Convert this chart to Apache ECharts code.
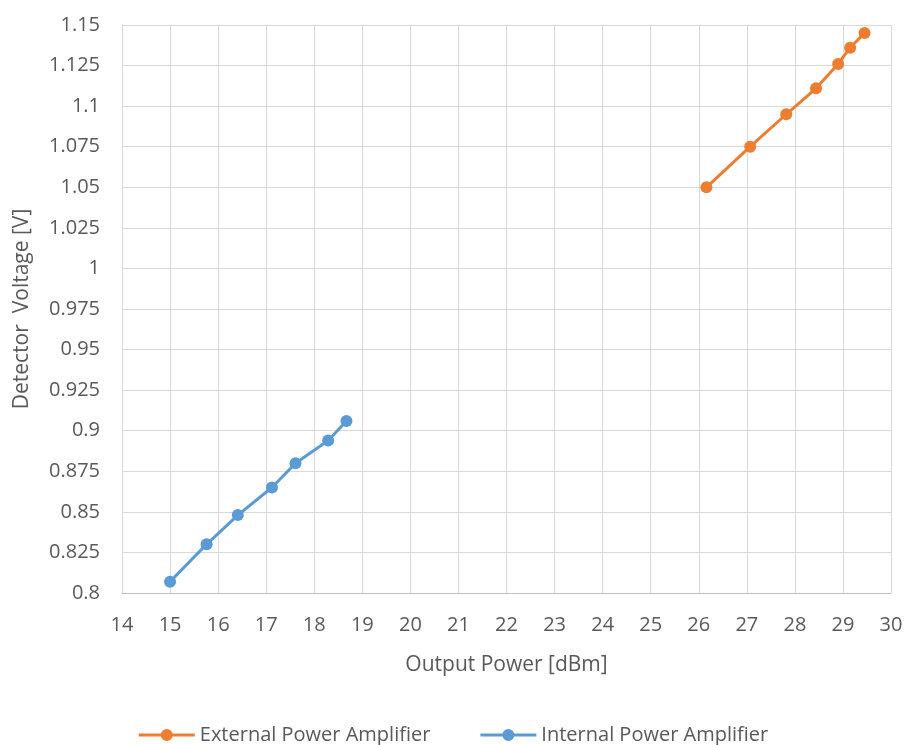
<!DOCTYPE html>
<html>
<head>
<meta charset="utf-8">
<script src="https://cdn.jsdelivr.net/npm/echarts@6/dist/echarts.min.js"></script>
<style>html,body{margin:0;padding:0;background:#fff;}#c{width:907px;height:745px;}</style>
</head>
<body>
<div id="c"></div>
<script>
const seriesNames = ['External Power Amplifier', 'Internal Power Amplifier'];
const externalX = [26.16, 27.07, 27.82, 28.44, 28.90, 29.15, 29.45];
const externalY = [1.050, 1.075, 1.095, 1.111, 1.126, 1.136, 1.145];
const internalX = [15.0, 15.76, 16.41, 17.12, 17.61, 18.29, 18.67];
const internalY = [0.807, 0.830, 0.848, 0.865, 0.880, 0.894, 0.906];
const xTitle = 'Output Power [dBm]';
const yTitle = 'Detector  Voltage [V]';

const zip = (xs, ys) => xs.map((x, i) => [x, ys[i]]);
const FONT = 'Open Sans';
const TXT = '#595959';
const ICON = 'path://M0,4.6H56V7.4H0Z M22,6a6,6 0 1,1 12,0a6,6 0 1,1 -12,0Z';
const chart = echarts.init(document.getElementById('c'));
chart.setOption({
  animation: false,
  textStyle: { fontFamily: FONT },
  grid: { left: 122, right: 16, top: 25, bottom: 152 },
  legend: {
    top: 724, left: 'center', padding: 0, itemWidth: 56, itemHeight: 12, itemGap: 50,
    textStyle: { color: TXT, fontSize: 20, fontFamily: FONT, lineHeight: 22 },
    data: seriesNames.map(n => ({ name: n, icon: ICON }))
  },
  xAxis: {
    type: 'value', min: 14, max: 30, interval: 1,
    name: xTitle, nameLocation: 'middle', nameGap: 62,
    nameTextStyle: { color: TXT, fontSize: 21, fontFamily: FONT },
    axisLine: { lineStyle: { color: '#BFBFBF', width: 1 } },
    axisTick: { show: false },
    axisLabel: { color: TXT, fontSize: 20, margin: 22, fontFamily: FONT },
    splitLine: { lineStyle: { color: '#D9D9D9', width: 1 } }
  },
  yAxis: {
    type: 'value', min: 0.8, max: 1.15, interval: 0.025,
    name: yTitle, nameLocation: 'middle', nameGap: 89,
    nameTextStyle: { color: TXT, fontSize: 21, fontFamily: FONT },
    axisLine: { show: true, lineStyle: { color: '#D9D9D9', width: 1 } },
    axisTick: { show: false },
    axisLabel: { color: TXT, fontSize: 20, margin: 22, fontFamily: FONT,
      formatter: v => String(+v.toFixed(3)) },
    splitLine: { lineStyle: { color: '#D9D9D9', width: 1 } }
  },
  series: [
    { name: seriesNames[0], type: 'line', data: zip(externalX, externalY),
      color: '#ED7D31', symbol: 'circle', symbolSize: 12,
      lineStyle: { width: 3, color: '#ED7D31' }, itemStyle: { color: '#ED7D31' } },
    { name: seriesNames[1], type: 'line', data: zip(internalX, internalY),
      color: '#5B9BD5', symbol: 'circle', symbolSize: 12,
      lineStyle: { width: 3, color: '#5B9BD5' }, itemStyle: { color: '#5B9BD5' } }
  ]
});
</script>
</body>
</html>
